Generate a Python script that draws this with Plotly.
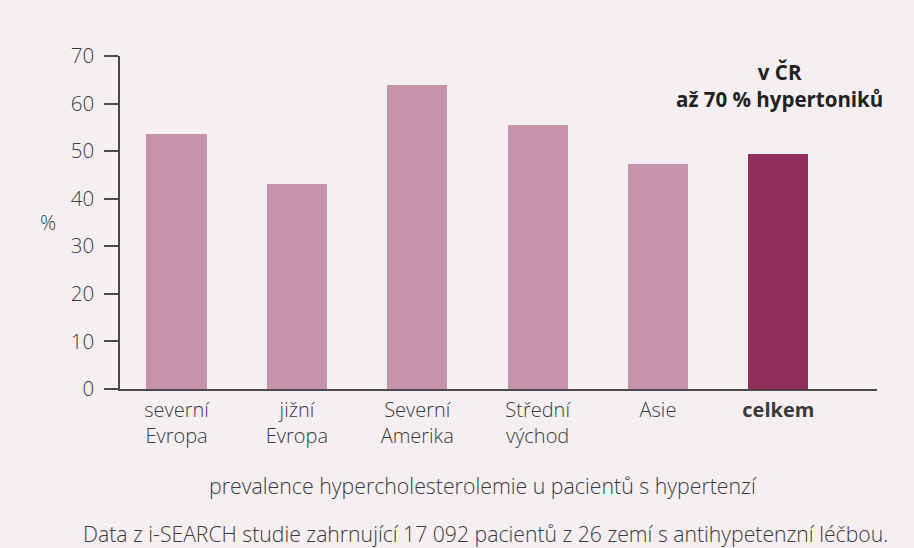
import plotly.graph_objects as go

categories = ["severní<br>Evropa", "jižní<br>Evropa", "Severní<br>Amerika",
              "Střední<br>východ", "Asie", "<b>celkem</b>"]
values = [53.5, 43.0, 63.8, 55.4, 47.2, 49.3]
bar_colors = ["#c693ab", "#c693ab", "#c693ab", "#c693ab", "#c693ab", "#8e2f5c"]
y_ticks = [0, 10, 20, 30, 40, 50, 60, 70]

BG = "#f5eff2"
TXT = "#3a3a3a"
FONT = "Open Sans"
W = 300

fig = go.Figure(go.Bar(
    x=categories, y=values, marker_color=bar_colors, width=0.5,
    marker_line_width=0,
))

fig.update_layout(
    width=914, height=548,
    paper_bgcolor=BG, plot_bgcolor=BG,
    margin=dict(l=120, r=37, t=56, b=159),
    font=dict(family=FONT, size=20, color=TXT, weight=W),
    showlegend=False,
    bargap=0,
)
fig.update_xaxes(
    type="category", range=[-0.47, 5.82],
    showline=True, linecolor="#4a4a4a", linewidth=1.5,
    ticks="", showgrid=False, zeroline=False,
    tickfont=dict(family=FONT, size=20, color=TXT, weight=W),
    ticklabelstandoff=2,
)
fig.update_yaxes(
    range=[0, 70], tickvals=y_ticks,
    showline=True, linecolor="#4a4a4a", linewidth=1.5,
    ticks="outside", ticklen=14, tickcolor="#4a4a4a", tickwidth=1.5,
    showgrid=False, zeroline=False,
    tickfont=dict(family=FONT, size=20.5, color=TXT, weight=W),
    ticklabelstandoff=6,
)

PW, PH = 757, 332.6


def py(px):
    return (388.6 - px) / PH


def pxx(px):
    return (px - 120) / PW


fig.add_annotation(text="%", xref="paper", yref="paper", x=pxx(47.7), y=py(222),
                   showarrow=False, font=dict(family=FONT, size=20, color=TXT, weight=W),
                   xanchor="center", yanchor="middle")
fig.add_annotation(text="<b>v ČR<br>až 70 % hypertoniků</b>", xref="paper", yref="paper",
                   x=pxx(779), y=py(85), showarrow=False, align="center",
                   font=dict(family=FONT, size=20.5, color="#222222"),
                   xanchor="center", yanchor="middle")
fig.add_annotation(text="prevalence hypercholesterolemie u pacientů s hypertenzí",
                   xref="paper", yref="paper", x=pxx(483),
                   y=py(485), showarrow=False,
                   font=dict(family=FONT, size=21.3, color=TXT, weight=W),
                   xanchor="center", yanchor="middle")
fig.add_annotation(text="Data z i-SEARCH studie zahrnující 17 092 pacientů z 26 zemí s antihypetenzní léčbou.",
                   xref="paper", yref="paper", x=pxx(485.5),
                   y=py(533), showarrow=False,
                   font=dict(family=FONT, size=21.2, color=TXT, weight=W),
                   xanchor="center", yanchor="middle")

fig.write_html("out.html",
               config={"displayModeBar": False},
               post_script="document.body.style.margin='0';document.body.style.padding='0';"
                           "document.body.style.overflow='hidden';"
                           "document.body.style.background='" + BG + "';")
